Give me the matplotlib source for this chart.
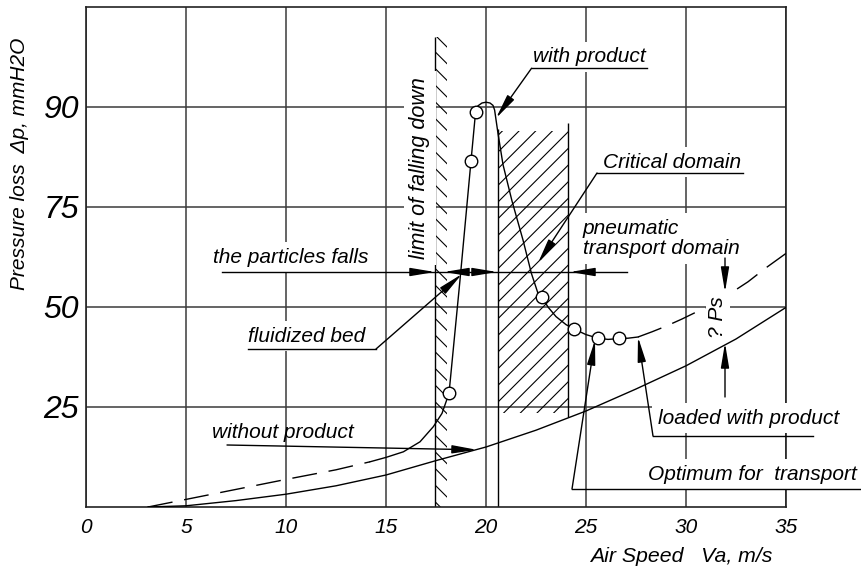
import matplotlib.pyplot as plt

plt.rcParams['font.family'] = ['Liberation Sans', 'DejaVu Sans']
plt.rcParams['font.style'] = 'italic'
plt.rcParams['hatch.linewidth'] = 0.8

# ---- data (air speed m/s, pressure loss in grid units; top grid line is labelled 90)
x_ticks = [0, 5, 10, 15, 20, 25, 30, 35]
y_ticks = [25, 50, 75, 100]
y_tick_labels = ['25', '50', '75', '90']

# empty pipe
empty_x = [3.1, 5, 7.5, 10, 12.5, 15, 17.5, 20, 22.5, 25, 27.5, 30, 32.5, 35]
empty_y = [0, 0.3, 1.6, 3.2, 5.3, 8.0, 11.6, 15.0, 19.2, 24.0, 29.5, 35.3, 42.0, 49.9]

# with product, dashed lower part
low_dash_x = [3.1, 5, 7.5, 10, 12.5, 14.2]
low_dash_y = [0, 1.9, 4.4, 6.9, 9.3, 11.3]

# with product, measured part
loaded_x = [14.2, 15.0, 15.87, 16.7, 17.37, 17.8, 18.15, 18.7, 19.25, 19.48,
            19.6, 19.8, 20.0, 20.2, 20.35, 20.43, 20.6, 20.85, 21.3, 21.85,
            22.27, 22.6, 22.8, 23.1, 23.5, 24.0, 24.4, 25.0, 25.6, 26.1, 26.65,
            27.1, 27.6]
loaded_y = [11.3, 12.4, 13.8, 16.3, 20.1, 23.4, 28.4, 56.75, 86.5, 98.8,
            100.3, 101.0, 101.2, 101.0, 100.4, 99.25, 93.4, 85.6, 76.5, 66.75,
            58.4, 53.4, 52.4, 50.0, 47.6, 45.6, 44.5, 43.1, 42.2, 41.9, 42.1,
            42.2, 42.5]

# with product, dashed upper part
up_dash_x = [27.6, 28.3, 29.0, 29.8, 30.5, 31.0, 32.0, 33.1, 34.0, 35]
up_dash_y = [42.5, 43.8, 45.2, 47.0, 48.7, 49.7, 52.7, 56.3, 59.8, 63.4]

# measured points
pts_x = [18.15, 19.25, 19.48, 22.8, 24.4, 25.6, 26.65]
pts_y = [28.4, 86.5, 98.8, 52.4, 44.5, 42.2, 42.2]

# hatched domains
fall_x0, fall_x1, fall_top = 17.45, 18.05, 117.5
crit_x0, crit_x1, crit_y0, crit_y1 = 20.6, 24.1, 23.5, 94.0

# labelled leaders: text, text pos, underline x0, x1, y, leader start x, arrow tip
labels = [
    ('with product', (22.35, 112.5), 22.28, 28.03, 109.7, 22.28, (20.5, 97.2)),
    ('Critical domain', (25.85, 86.25), 25.55, 32.85, 83.5, 25.55, (22.6, 61.0)),
    ('fluidized bed', (8.1, 42.75), 8.1, 14.5, 39.5, 14.5, (18.8, 58.25)),
    ('loaded with product', (28.6, 22.25), 28.35, 36.35, 17.75, 28.35, (27.6, 42.5)),
    ('Optimum for  transport', (28.1, 8.25), 24.3, 38.8, 4.5, 24.3, (25.45, 41.75)),
    ('without product', (6.3, 18.75), 7.05, 7.05, 15.5, 7.05, (19.55, 14.3)),
]

# domain arrows row
row_y = 58.75
row_x0, row_x1 = 6.8, 27.05
row_tips = [(17.45, 1), (17.9, -1), (20.55, 1), (24.2, -1)]

# delta Ps dimension
dim_x = 31.95
dim_top = (62.25, 53.75)
dim_bot = (27.5, 41.0)

fs = 15

fig = plt.figure(figsize=(8.62, 5.71), dpi=100)
ax = fig.add_axes([86 / 862, 64 / 571, 700 / 862, 500 / 571])
ax.set_xlim(0, 35)
ax.set_ylim(0, 125)

ax.set_xticks(x_ticks)
ax.set_xticklabels([str(v) for v in x_ticks], fontsize=15)
ax.set_yticks(y_ticks)
ax.set_yticklabels(y_tick_labels, fontsize=23)
ax.tick_params(axis='x', length=0, pad=8)
ax.tick_params(axis='y', length=0, pad=5)
ax.grid(color='#3a3a3a', lw=1.1, zorder=0)
ax.set_axisbelow(True)
for s in ax.spines.values():
    s.set_linewidth(1.2)
    s.set_color('#222222')

arrow = '-|>,head_length=1.5,head_width=0.25'


def arr(tail, tip, z=4):
    ax.annotate('', xy=tip, xytext=tail, annotation_clip=False,
                arrowprops=dict(arrowstyle=arrow, color='black', lw=1,
                                shrinkA=0, shrinkB=0, mutation_scale=10),
                zorder=z)


# hatched bands
ax.fill_between([fall_x0, fall_x1], 0, fall_top, facecolor='none',
                edgecolor='black', hatch='\\\\', linewidth=0, zorder=2)
ax.vlines(fall_x0, 0, fall_top, color='black', lw=1, zorder=2)
ax.fill_between([crit_x0, crit_x1], crit_y0, crit_y1, facecolor='none',
                edgecolor='black', hatch='//', linewidth=0, zorder=2)
ax.vlines(crit_x0, 0, crit_y1 + 0.5, color='black', lw=1, zorder=2)
ax.vlines(crit_x1, crit_y0 - 1, crit_y1 + 2, color='black', lw=1, zorder=2)

# curves
ax.plot(empty_x, empty_y, color='black', lw=1, zorder=4)
ax.plot(low_dash_x, low_dash_y, color='black', lw=1, dashes=(18, 8.5), zorder=4)
ax.plot(loaded_x, loaded_y, color='black', lw=1, zorder=4)
ax.plot(up_dash_x, up_dash_y, color='black', lw=1, dashes=(18, 8.5), zorder=4)
ax.plot(pts_x, pts_y, 'o', ms=9, mfc='white', mec='black', mew=1, zorder=5)

white = dict(fc='white', ec='none', pad=4)

# labels with leaders
for txt, pos, ux0, ux1, uy, lx, tip in labels:
    ax.text(pos[0], pos[1], txt, fontsize=fs, ha='left', va='center',
            bbox=None if txt == 'without product' else white, zorder=3,
            clip_on=False)
    ax.plot([ux0, ux1], [uy, uy], color='black', lw=1, zorder=4, clip_on=False)
    arr((lx, uy), tip)

ax.text(6.35, 62.4, 'the particles falls', fontsize=fs, ha='left',
        va='center', bbox=white, zorder=3)
ax.text(24.85, 67.1, 'pneumatic\ntransport domain', fontsize=fs, ha='left',
        va='center', linespacing=1.1, bbox=white, zorder=3)
ax.text(16.7, 84.75, 'limit of falling down', fontsize=15.5, rotation=90,
        ha='center', va='center', bbox=white, zorder=3)

# domain arrows row
ax.plot([row_x0, row_x1], [row_y, row_y], color='black', lw=1, zorder=4)
for tx, d in row_tips:
    arr((tx - d * 1.2, row_y), (tx, row_y))

# delta Ps
ax.text(31.6, 47.5, '? Ps', fontsize=fs, rotation=90, ha='center',
        va='center', bbox=dict(fc='white', ec='none', pad=2), zorder=6)
arr((dim_x, dim_top[0]), (dim_x, dim_top[1]))
arr((dim_x, dim_bot[0]), (dim_x, dim_bot[1]))

fig.text(20 / 862, 1 - 164 / 571, 'Pressure loss  Δp, mmH2O', fontsize=15,
         rotation=90, ha='center', va='center')
fig.text(681 / 862, 1 - 557 / 571, 'Air Speed   Va, m/s', fontsize=15.3,
         ha='center', va='center')

fig.savefig('out.png', dpi=100)
